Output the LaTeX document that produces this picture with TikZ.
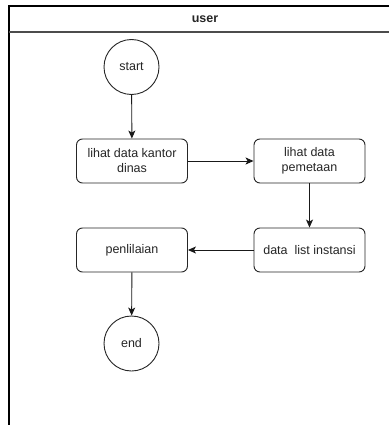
\documentclass[tikz,border=0pt]{standalone}
\usepackage{fontspec}
\setmainfont{Liberation Sans}
\usetikzlibrary{arrows.meta}
\begin{document}
\begin{tikzpicture}[x=1pt,y=-1pt,
  txt/.style={text=black!85, font=\fontsize{12.5}{15}\selectfont},
  stepbox/.style={txt, draw=black!85, line width=0.9pt, rounded corners=6pt, minimum width=111pt, minimum height=44pt, align=center, inner sep=0pt},
  term/.style={txt, draw=black!85, line width=0.9pt, circle, minimum size=55pt, inner sep=0pt},
  flow/.style={draw=black!90, line width=0.9pt, -{Stealth[length=8pt,width=7pt,inset=2pt]}},
  lane/.style={draw=black, line width=1.3pt}]
\useasboundingbox (0,0) rectangle (389,425);
\fill[white] (0,0) rectangle (389,425);
% swimlane
\coordinate (tl) at (9,6);
\coordinate (tr) at (389,6);
\coordinate (hl) at (9,32);
\coordinate (hr) at (389,32);
\coordinate (bl) at (9,425);
\draw[lane] (tr) -- (tl) -- (bl);
\draw[draw=black!70, line width=1.3pt] (hl) -- (hr);
\node[txt, font=\bfseries\fontsize{12.5}{15}\selectfont] (user) at (205,19) {user};
% nodes
\node[term] (start) at (131.5,67) {start};
\node[stepbox] (kantor) at (132,161) {lihat data kantor\\dinas};
\node[stepbox] (peta) at (309.5,161) {lihat data\\pemetaan};
\node[stepbox] (list) at (309.5,250) {data\ \ list instansi};
\node[stepbox] (nilai) at (132,250) {penlilaian};
\node[term] (end) at (131.5,343.5) {end};
% connectors
\draw[flow] (start) -- (kantor);
\draw[flow] (kantor) -- (peta);
\draw[flow] (peta) -- (list);
\draw[flow] (list) -- (nilai);
\draw[flow] (nilai) -- (end);
\end{tikzpicture}
\end{document}
